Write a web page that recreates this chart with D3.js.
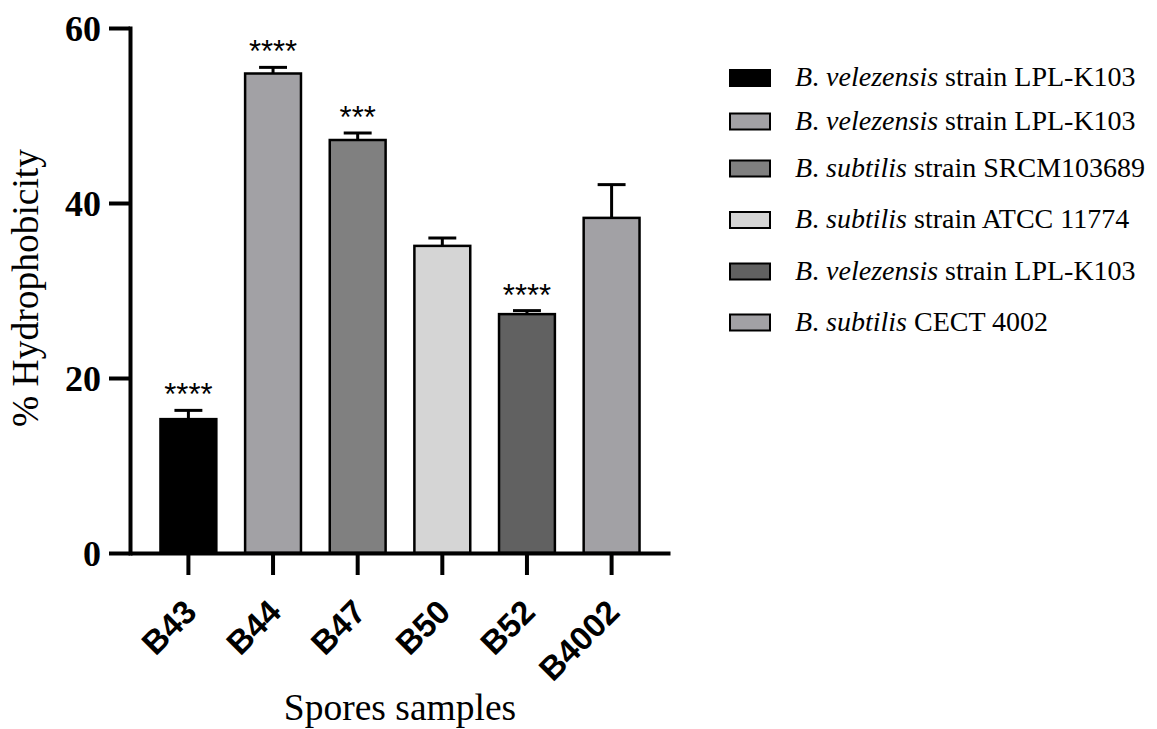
<!DOCTYPE html>
<html>
<head>
<meta charset="utf-8">
<script src="https://cdn.jsdelivr.net/npm/d3@7"></script>
<style>
  body { margin: 0; background: #fff; }
  svg { display: block; }
</style>
</head>
<body>
<svg id="chart" width="1157" height="729"></svg>
<script>
// values
const samples = ["B43", "B44", "B47", "B50", "B52", "B4002"];
const means = [15.3, 54.8, 47.2, 35.1, 27.3, 38.3];
const errors = [1.0, 0.7, 0.8, 0.9, 0.4, 3.8];
const stars = ["****", "****", "***", "", "****", ""];
const yTicks = [0, 20, 40, 60];

const legendGenus = ["B. velezensis", "B. velezensis", "B. subtilis", "B. subtilis", "B. velezensis", "B. subtilis"];
const legendStrain = ["strain LPL-K103", "strain LPL-K103", "strain SRCM103689", "strain ATCC 11774", "strain LPL-K103", "CECT 4002"];

const barColors = ["#000000", "#a2a1a5", "#808080", "#d5d5d5", "#616161", "#a2a1a5"];

let svg = d3.select("#chart");

let x = d3.scaleBand()
  .domain(samples)
  .range([130, 670])
  .paddingInner(0.34)
  .paddingOuter(0.36);

let y = d3.scaleLinear()
  .domain([0, 60])
  .range([553, 28]);

let color = d3.scaleOrdinal().domain(samples).range(barColors);

let data = samples.map(function(s, i) {
  return { name: s, mean: means[i], err: errors[i], star: stars[i] };
});

// bars
svg.append("g")
  .selectAll("rect")
  .data(data)
  .enter()
  .append("rect")
  .attr("x", function(d) { return x(d.name); })
  .attr("y", function(d) { return y(d.mean); })
  .attr("width", x.bandwidth())
  .attr("height", function(d) { return y(0) - y(d.mean); })
  .attr("fill", function(d) { return color(d.name); })
  .attr("stroke", "black")
  .attr("stroke-width", 2.5);

// error bars (upper only)
let capHalf = x.bandwidth() / 4;
let errG = svg.append("g")
  .attr("stroke", "black")
  .attr("stroke-width", 3);

errG.selectAll("line.stem")
  .data(data)
  .enter()
  .append("line")
  .attr("class", "stem")
  .attr("x1", function(d) { return x(d.name) + x.bandwidth() / 2; })
  .attr("x2", function(d) { return x(d.name) + x.bandwidth() / 2; })
  .attr("y1", function(d) { return y(d.mean); })
  .attr("y2", function(d) { return y(d.mean + d.err); });

errG.selectAll("line.cap")
  .data(data)
  .enter()
  .append("line")
  .attr("class", "cap")
  .attr("x1", function(d) { return x(d.name) + x.bandwidth() / 2 - capHalf; })
  .attr("x2", function(d) { return x(d.name) + x.bandwidth() / 2 + capHalf; })
  .attr("y1", function(d) { return y(d.mean + d.err); })
  .attr("y2", function(d) { return y(d.mean + d.err); });

// significance stars
svg.append("g")
  .selectAll("text")
  .data(data)
  .enter()
  .append("text")
  .text(function(d) { return d.star; })
  .attr("x", function(d) { return x(d.name) + x.bandwidth() / 2; })
  .attr("y", function(d) { return y(d.mean + d.err) - 5; })
  .attr("text-anchor", "middle")
  .style("font-family", "'Liberation Sans', Arial, sans-serif")
  .style("font-size", "31px");

// y axis
let yAxis = svg.append("g")
  .attr("transform", "translate(130,0)")
  .call(d3.axisLeft(y).tickValues(yTicks).tickSize(21).tickSizeOuter(0).tickPadding(8));

yAxis.select(".domain").attr("stroke-width", 4).attr("stroke-linecap", "square");
yAxis.selectAll(".tick line").attr("stroke-width", 4);
yAxis.selectAll(".tick text")
  .style("font-family", "'Liberation Serif', 'Times New Roman', serif")
  .style("font-weight", "bold")
  .style("font-size", "36px")
  .attr("dy", "0.34em");

// x axis
let xAxis = svg.append("g")
  .attr("transform", "translate(0,553)")
  .call(d3.axisBottom(x).tickSize(22).tickSizeOuter(0).tickFormat(""));

xAxis.select(".domain").attr("stroke-width", 4);
xAxis.selectAll(".tick line").attr("stroke-width", 4);

svg.append("g")
  .selectAll("text")
  .data(samples)
  .enter()
  .append("text")
  .text(function(d) { return d; })
  .attr("transform", function(d) {
    return "translate(" + (x(d) + x.bandwidth() / 2 + 10) + ",614) rotate(-45)";
  })
  .attr("text-anchor", "end")
  .style("font-family", "'Liberation Sans', Arial, sans-serif")
  .style("font-weight", "bold")
  .style("font-size", "33px");

// axis titles
svg.append("text")
  .text("% Hydrophobicity")
  .attr("transform", "translate(38,288) rotate(-90)")
  .attr("text-anchor", "middle")
  .style("font-family", "'Liberation Serif', 'Times New Roman', serif")
  .style("font-size", "37.5px");

svg.append("text")
  .text("Spores samples")
  .attr("x", 400)
  .attr("y", 720)
  .attr("text-anchor", "middle")
  .style("font-family", "'Liberation Serif', 'Times New Roman', serif")
  .style("font-size", "37.5px");

// legend
let legendY = [78, 121.5, 168.5, 220, 271.5, 322.5];
let legend = svg.append("g");

let rows = legend.selectAll("g")
  .data(samples)
  .enter()
  .append("g")
  .attr("transform", function(d, i) { return "translate(729," + legendY[i] + ")"; });

rows.append("rect")
  .attr("x", 1)
  .attr("y", -8)
  .attr("width", 40)
  .attr("height", 16)
  .attr("fill", function(d) { return color(d); })
  .attr("stroke", "black")
  .attr("stroke-width", 2);

let label = rows.append("text")
  .attr("x", 66)
  .attr("y", 8)
  .style("font-family", "'Liberation Serif', 'Times New Roman', serif")
  .style("font-size", "28px");

label.append("tspan")
  .style("font-style", "italic")
  .text(function(d, i) { return legendGenus[i].split(".")[0]; });
label.append("tspan")
  .text(".");
label.append("tspan")
  .style("font-style", "italic")
  .text(function(d, i) { return legendGenus[i].split(".")[1] + " "; });
label.append("tspan")
  .text(function(d, i) { return legendStrain[i]; });
</script>
</body>
</html>
